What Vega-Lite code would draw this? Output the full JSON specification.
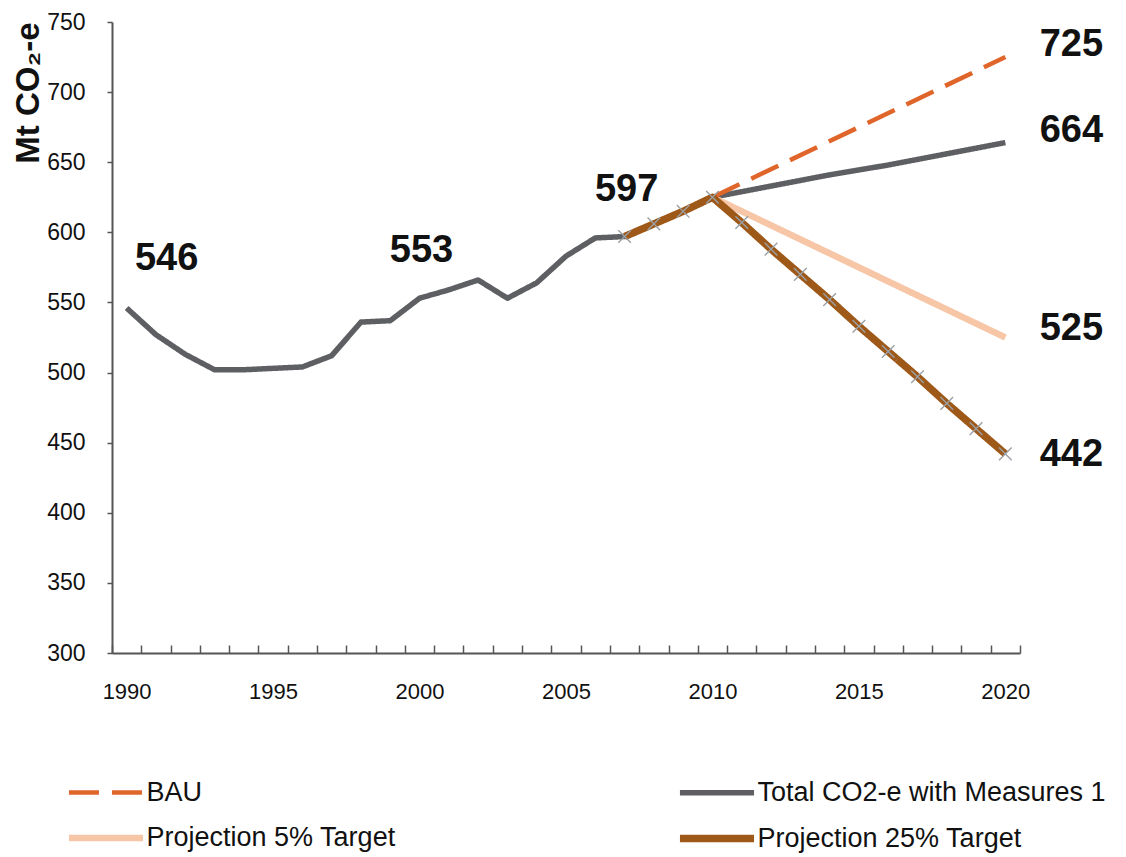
{
  "$schema": "https://vega.github.io/schema/vega-lite/v6.json",
  "width": 908,
  "height": 631,
  "autosize": {"type": "none"},
  "padding": {"left": 112, "top": 22, "right": 106, "bottom": 204},
  "background": "white",
  "config": {
    "view": {"stroke": null},
    "font": "Liberation Sans"
  },
  "datasets": {
    "lines": [
      {"series": "Total CO2-e with Measures 1", "year": 1990, "value": 546},
      {"series": "Total CO2-e with Measures 1", "year": 1991, "value": 527},
      {"series": "Total CO2-e with Measures 1", "year": 1992, "value": 513},
      {"series": "Total CO2-e with Measures 1", "year": 1993, "value": 502},
      {"series": "Total CO2-e with Measures 1", "year": 1994, "value": 502},
      {"series": "Total CO2-e with Measures 1", "year": 1995, "value": 503},
      {"series": "Total CO2-e with Measures 1", "year": 1996, "value": 504},
      {"series": "Total CO2-e with Measures 1", "year": 1997, "value": 512},
      {"series": "Total CO2-e with Measures 1", "year": 1998, "value": 536},
      {"series": "Total CO2-e with Measures 1", "year": 1999, "value": 537},
      {"series": "Total CO2-e with Measures 1", "year": 2000, "value": 553},
      {"series": "Total CO2-e with Measures 1", "year": 2001, "value": 559},
      {"series": "Total CO2-e with Measures 1", "year": 2002, "value": 566},
      {"series": "Total CO2-e with Measures 1", "year": 2003, "value": 553},
      {"series": "Total CO2-e with Measures 1", "year": 2004, "value": 564},
      {"series": "Total CO2-e with Measures 1", "year": 2005, "value": 583},
      {"series": "Total CO2-e with Measures 1", "year": 2006, "value": 596},
      {"series": "Total CO2-e with Measures 1", "year": 2007, "value": 597},
      {"series": "Total CO2-e with Measures 1", "year": 2008, "value": 606},
      {"series": "Total CO2-e with Measures 1", "year": 2009, "value": 615},
      {"series": "Total CO2-e with Measures 1", "year": 2010, "value": 625},
      {"series": "Total CO2-e with Measures 1", "year": 2012, "value": 633},
      {"series": "Total CO2-e with Measures 1", "year": 2014, "value": 641},
      {"series": "Total CO2-e with Measures 1", "year": 2016, "value": 648},
      {"series": "Total CO2-e with Measures 1", "year": 2018, "value": 656},
      {"series": "Total CO2-e with Measures 1", "year": 2020, "value": 664},
      {"series": "Projection 5% Target", "year": 2010, "value": 625},
      {"series": "Projection 5% Target", "year": 2020, "value": 525},
      {"series": "BAU", "year": 2010, "value": 625},
      {"series": "BAU", "year": 2020, "value": 725},
      {"series": "Projection 25% Target", "year": 2007, "value": 597},
      {"series": "Projection 25% Target", "year": 2008, "value": 606},
      {"series": "Projection 25% Target", "year": 2009, "value": 615},
      {"series": "Projection 25% Target", "year": 2010, "value": 625},
      {"series": "Projection 25% Target", "year": 2011, "value": 607},
      {"series": "Projection 25% Target", "year": 2012, "value": 588},
      {"series": "Projection 25% Target", "year": 2013, "value": 570},
      {"series": "Projection 25% Target", "year": 2014, "value": 552},
      {"series": "Projection 25% Target", "year": 2015, "value": 533},
      {"series": "Projection 25% Target", "year": 2016, "value": 515},
      {"series": "Projection 25% Target", "year": 2017, "value": 497},
      {"series": "Projection 25% Target", "year": 2018, "value": 478},
      {"series": "Projection 25% Target", "year": 2019, "value": 460},
      {"series": "Projection 25% Target", "year": 2020, "value": 442}
    ],
    "labels": [
      {"year": 1990, "value": 546, "label": "546", "grp": "a"},
      {"year": 2000, "value": 553, "label": "553", "grp": "b"},
      {"year": 2007, "value": 597, "label": "597", "grp": "b"},
      {"year": 2020, "value": 725, "label": "725", "grp": "c"},
      {"year": 2020, "value": 664, "label": "664", "grp": "c"},
      {"year": 2020, "value": 525, "label": "525", "grp": "d"},
      {"year": 2020, "value": 442, "label": "442", "grp": "e"}
    ]
  },
  "layer": [
    {
      "data": {"name": "lines"},
      "mark": {"type": "line", "strokeCap": "butt", "strokeJoin": "round"},
      "encoding": {
        "x": {
          "field": "year", "type": "quantitative",
          "scale": {"domain": [1989.5, 2020.5], "nice": false, "zero": false},
          "axis": {
            "title": null,
            "grid": false,
            "values": [1989.5,1990.5,1991.5,1992.5,1993.5,1994.5,1995.5,1996.5,1997.5,1998.5,1999.5,2000.5,2001.5,2002.5,2003.5,2004.5,2005.5,2006.5,2007.5,2008.5,2009.5,2010.5,2011.5,2012.5,2013.5,2014.5,2015.5,2016.5,2017.5,2018.5,2019.5,2020.5],
            "tickCount": 100,
            "labelExpr": "(datum.value + 0.5) % 5 == 0 ? format(datum.value + 0.5, 'd') : ''",
            "labelOffset": 14.6,
            "labelOverlap": false,
            "labelFlush": false,
            "labelBound": false,
            "labelFont": "Liberation Sans",
            "labelFontSize": 22,
            "labelColor": "#111",
            "labelPadding": 36,
            "tickSize": -8,
            "tickColor": "#555",
            "tickWidth": 1.5,
            "domainColor": "#555",
            "domainWidth": 2
          }
        },
        "y": {
          "field": "value", "type": "quantitative",
          "scale": {"domain": [300, 750], "nice": false, "zero": false},
          "axis": {
            "title": "Mt CO₂-e",
            "titleFont": "Liberation Sans",
            "titleFontSize": 33,
            "titleFontWeight": "bold",
            "titleColor": "#111",
            "titleAnchor": "end",
            "titlePadding": 1,
            "grid": false,
            "values": [300,350,400,450,500,550,600,650,700,750],
            "tickCount": 100,
            "labelFont": "Liberation Sans",
            "labelFontSize": 23,
            "labelColor": "#111",
            "labelPadding": 22,
            "tickSize": 5,
            "tickColor": "#555",
            "tickWidth": 1.5,
            "domainColor": "#555",
            "domainWidth": 2
          }
        },
        "color": {
          "field": "series", "type": "nominal",
          "scale": {
            "domain": ["BAU", "Total CO2-e with Measures 1", "Projection 5% Target", "Projection 25% Target"],
            "range": ["#e0652a", "#5e5f62", "#f7c6a7", "#9e5818"]
          },
          "legend": {
            "title": null,
            "orient": "none",
            "direction": "horizontal",
            "legendX": -38.5,
            "legendY": 739,
            "columns": 2,
            "columnPadding": 268,
            "rowPadding": 0,
            "symbolType": "M-1.3,0L1.3,0",
            "symbolSize": 3249,
            "labelFont": "Liberation Sans",
            "labelFontSize": 27,
            "labelColor": "#111",
            "labelOffset": 8,
            "labelLimit": 500
          }
        },
        "strokeDash": {
          "field": "series", "type": "nominal",
          "scale": {
            "domain": ["BAU", "Total CO2-e with Measures 1", "Projection 5% Target", "Projection 25% Target"],
            "range": [[30, 13], [1, 0], [1, 0], [1, 0]]
          },
          "legend": null
        },
        "strokeWidth": {
          "field": "series", "type": "nominal",
          "scale": {
            "domain": ["BAU", "Total CO2-e with Measures 1", "Projection 5% Target", "Projection 25% Target"],
            "range": [4.5, 7.5, 8, 4.5]
          },
          "legend": null
        }
      }
    },
    {
      "data": {"name": "lines"},
      "transform": [{"filter": "datum.series == 'Projection 25% Target'"}],
      "mark": {"type": "point", "shape": "M-1,-1L1,1M-1,1L1,-1", "filled": false, "size": 160, "stroke": "#9aa0a6", "strokeWidth": 1.4, "opacity": 1},
      "encoding": {
        "x": {"field": "year", "type": "quantitative"},
        "y": {"field": "value", "type": "quantitative"}
      }
    },
    {
      "data": {"name": "labels"},
      "transform": [{"filter": "datum.grp == 'a'"}],
      "mark": {"type": "text", "font": "Liberation Sans", "fontSize": 38, "fontWeight": "bold", "color": "#111", "align": "center", "baseline": "middle", "dx": 40, "dy": -49},
      "encoding": {"x": {"field": "year", "type": "quantitative"}, "y": {"field": "value", "type": "quantitative"}, "text": {"field": "label"}}
    },
    {
      "data": {"name": "labels"},
      "transform": [{"filter": "datum.grp == 'b'"}],
      "mark": {"type": "text", "font": "Liberation Sans", "fontSize": 38, "fontWeight": "bold", "color": "#111", "align": "center", "baseline": "middle", "dx": 2, "dy": -47},
      "encoding": {"x": {"field": "year", "type": "quantitative"}, "y": {"field": "value", "type": "quantitative"}, "text": {"field": "label"}}
    },
    {
      "data": {"name": "labels"},
      "transform": [{"filter": "datum.grp == 'c'"}],
      "mark": {"type": "text", "font": "Liberation Sans", "fontSize": 38, "fontWeight": "bold", "color": "#111", "align": "center", "baseline": "middle", "dx": 66, "dy": -12},
      "encoding": {"x": {"field": "year", "type": "quantitative"}, "y": {"field": "value", "type": "quantitative"}, "text": {"field": "label"}}
    },
    {
      "data": {"name": "labels"},
      "transform": [{"filter": "datum.grp == 'd'"}],
      "mark": {"type": "text", "font": "Liberation Sans", "fontSize": 38, "fontWeight": "bold", "color": "#111", "align": "center", "baseline": "middle", "dx": 66, "dy": -9},
      "encoding": {"x": {"field": "year", "type": "quantitative"}, "y": {"field": "value", "type": "quantitative"}, "text": {"field": "label"}}
    },
    {
      "data": {"name": "labels"},
      "transform": [{"filter": "datum.grp == 'e'"}],
      "mark": {"type": "text", "font": "Liberation Sans", "fontSize": 38, "fontWeight": "bold", "color": "#111", "align": "center", "baseline": "middle", "dx": 66, "dy": 1},
      "encoding": {"x": {"field": "year", "type": "quantitative"}, "y": {"field": "value", "type": "quantitative"}, "text": {"field": "label"}}
    }
  ]
}
